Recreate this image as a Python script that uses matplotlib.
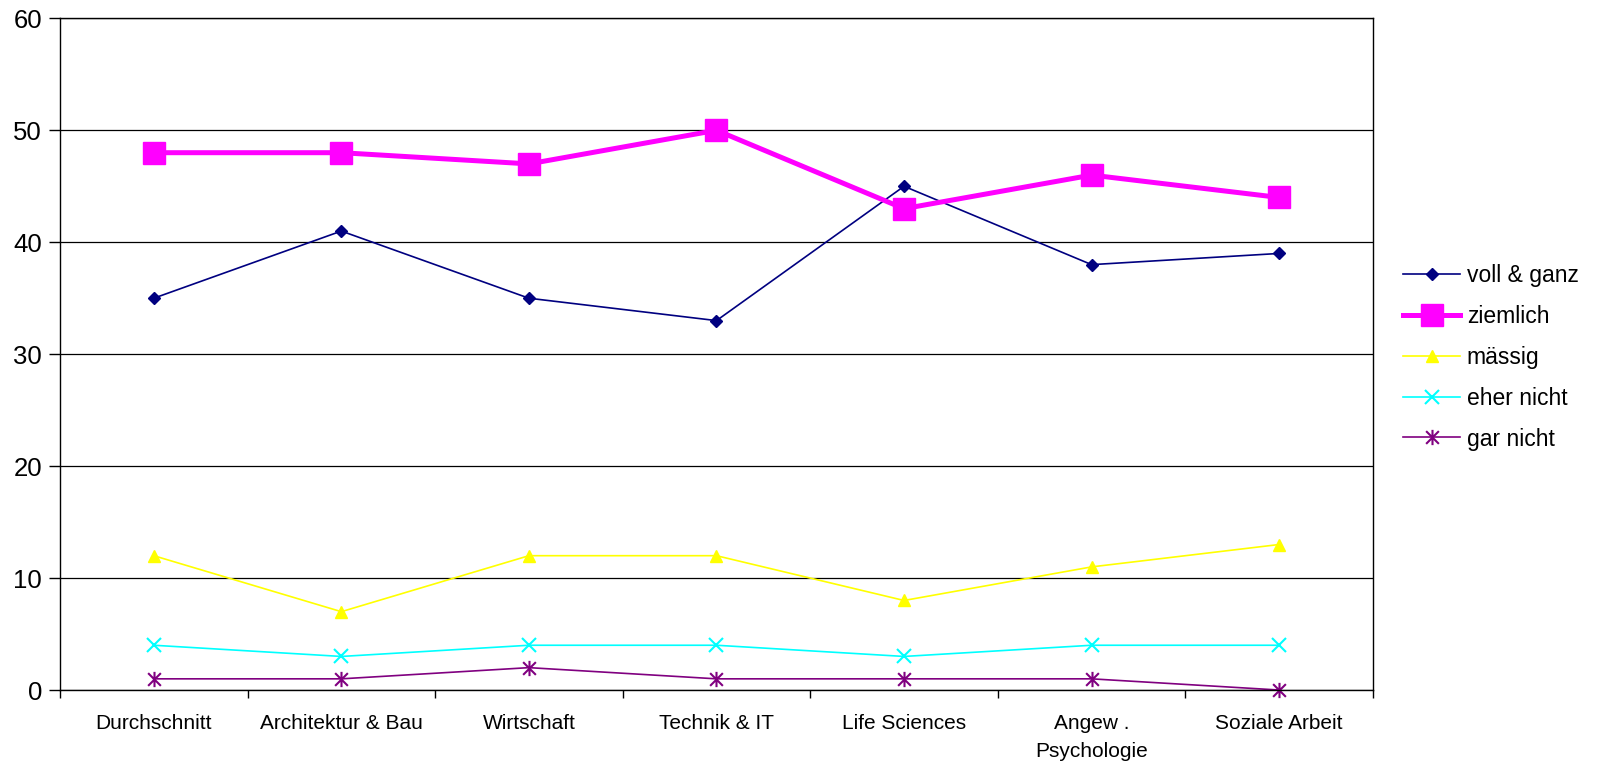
import numpy as np
import matplotlib
matplotlib.use("Agg")
import matplotlib.pyplot as plt
from matplotlib.path import Path

plt.rcParams['font.family'] = ['Liberation Sans', 'DejaVu Sans']

# Daten
categories = ["Durchschnitt", "Architektur & Bau", "Wirtschaft", "Technik & IT",
              "Life Sciences", "Angew .\nPsychologie", "Soziale Arbeit"]
voll_ganz = [35, 41, 35, 33, 45, 38, 39]
ziemlich = [48, 48, 47, 50, 43, 46, 44]
maessig = [12, 7, 12, 12, 8, 11, 13]
eher_nicht = [4, 3, 4, 4, 3, 4, 4]
gar_nicht = [1, 1, 2, 1, 1, 1, 0]

# Stern-Marker wie in Excel (x + senkrechter Strich)
star = Path(
    [(-1, -1), (1, 1), (-1, 1), (1, -1), (0, -1.2), (0, 1.2)],
    [Path.MOVETO, Path.LINETO, Path.MOVETO, Path.LINETO, Path.MOVETO, Path.LINETO],
)

x = np.arange(len(categories))

fig = plt.figure(figsize=(16, 7.65), dpi=100)
ax = fig.add_axes([0.0375, 0.098, 0.8206, 0.878])

ax.plot(x, voll_ganz, color="#000080", lw=1.2, marker="D", ms=6.5, label="voll & ganz")
ax.plot(x, ziemlich, color="#FF00FF", lw=3.6, marker="s", ms=15.5, label="ziemlich")
ax.plot(x, maessig, color="#FFFF00", lw=1.2, marker="^", ms=9, label="mässig")
ax.plot(x, eher_nicht, color="#00FFFF", lw=1.2, marker="x", ms=10, mew=1.5, label="eher nicht")
ax.plot(x, gar_nicht, color="#800080", lw=1.2, marker=star, ms=11, mew=1.5,
        label="gar nicht", clip_on=False)

ax.set_xlim(-0.5, len(categories) - 0.5)
ax.set_ylim(0, 60)
ax.set_yticks(range(0, 61, 10))
ax.set_xticks(x)
ax.set_xticklabels(categories, fontsize=15, linespacing=1.6)
ax.set_xticks(np.arange(-0.5, len(categories), 1), minor=True)
ax.tick_params(axis="x", which="major", length=0, pad=17.5)
ax.tick_params(axis="x", which="minor", length=6, width=1, direction="out")
ax.tick_params(axis="y", labelsize=18.5, length=8, width=1, pad=5)

ax.yaxis.grid(True, color="black", lw=0.9)
ax.set_axisbelow(True)
for s in ax.spines.values():
    s.set_color("black")
    s.set_linewidth(1)

fig.legend(loc="center left", bbox_to_anchor=(1403 / 1600, 0.533), frameon=False,
           fontsize=16.5, handlelength=2.5, handletextpad=0.28, labelspacing=0.78,
           borderaxespad=0, borderpad=0)

fig.savefig("out.png", dpi=100, facecolor="white")
